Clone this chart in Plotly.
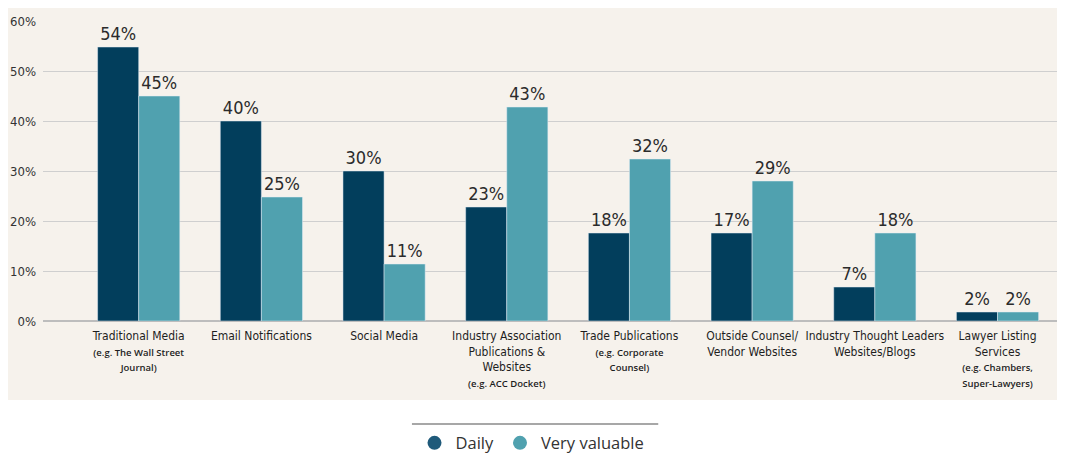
import plotly.graph_objects as go

categories = [
    "Traditional Media",
    "Email Notifications",
    "Social Media",
    "Industry Association<br>Publications &<br>Websites",
    "Trade Publications",
    "Outside Counsel/<br>Vendor Websites",
    "Industry Thought Leaders<br>Websites/Blogs",
    "Lawyer Listing<br>Services",
]
notes = [
    "(e.g. The Wall Street<br>Journal)",
    "",
    "",
    "(e.g. ACC Docket)",
    "(e.g. Corporate<br>Counsel)",
    "",
    "",
    "(e.g. Chambers,<br>Super-Lawyers)",
]
# bar heights as drawn, and the percentages printed above them
daily = [54.8, 40, 30, 22.8, 17.6, 17.6, 6.8, 1.8]
very_valuable = [45, 24.8, 11.4, 42.8, 32.4, 28, 17.6, 1.8]
daily_labels = ["54%", "40%", "30%", "23%", "18%", "17%", "7%", "2%"]
very_valuable_labels = ["45%", "25%", "11%", "43%", "32%", "29%", "18%", "2%"]
y_ticks = [0, 10, 20, 30, 40, 50, 60]

DARK = "#023e5c"
LIGHT = "#50a1af"
BEIGE = "#f6f2ec"
COND = "DejaVu Sans Condensed"
BODY = "Open Sans, Noto Sans, sans-serif"

# tick labels: condensed title plus small note line
ticktext = []
for name, note in zip(categories, notes):
    label = name
    if note:
        label += ("<br><span style='font-size:9.5px;font-family:Open Sans;font-weight:600'>"
                  + note + "</span>")
    ticktext.append(label)

x = list(range(len(categories)))

fig = go.Figure()
fig.add_trace(go.Bar(x=x, y=daily, marker_color=DARK, name="Daily", showlegend=False,
                     text=daily_labels, textposition="outside",
                     textfont=dict(family=COND, size=18, color="#2b2b2b"), cliponaxis=False))
fig.add_trace(go.Bar(x=x, y=very_valuable, marker_color=LIGHT, name="Very valuable", showlegend=False,
                     text=very_valuable_labels, textposition="outside",
                     textfont=dict(family=COND, size=18, color="#2b2b2b"), cliponaxis=False))

# legend entries drawn as circles
fig.add_trace(go.Scatter(x=[None], y=[None], mode="markers", name="Daily",
                         marker=dict(color="#1f5a7a", size=14, symbol="circle")))
fig.add_trace(go.Scatter(x=[None], y=[None], mode="markers", name="Very valuable",
                         marker=dict(color=LIGHT, size=14, symbol="circle")))

# beige panel behind the chart and the rule above the legend
fig.add_shape(type="rect", xref="paper", yref="paper", x0=-0.05, x1=1.01, y0=-0.263, y1=1.1,
              fillcolor=BEIGE, line_width=0, layer="below")
fig.add_shape(type="line", xref="paper", yref="paper", x0=0.361, x1=0.602, y0=-0.343, y1=-0.343,
              line=dict(color="#8a8a8a", width=1.5))

# page body has an 8px margin, so the figure is 8px smaller than the window
fig.update_layout(
    width=1057, height=448,
    margin=dict(l=35, r=0, t=13, b=135, autoexpand=False),
    paper_bgcolor="white", plot_bgcolor=BEIGE,
    barmode="group", bargap=0.33, bargroupgap=0,
    font=dict(family=COND, color="#2b2b2b"),
    legend=dict(orientation="h", x=0.478, xanchor="center", y=-0.407, yanchor="middle",
                font=dict(family=BODY, size=16.5, color="#333333"), bgcolor="rgba(0,0,0,0)",
                itemwidth=32),
    xaxis=dict(tickmode="array", tickvals=x, ticktext=ticktext, range=[-0.78, 7.55],
               tickfont=dict(family=COND, size=12, color="#1e1e1e"), showgrid=False,
               zeroline=False, ticks="", showline=False, tickangle=0, automargin=False,
               ticklabelstandoff=6),
    yaxis=dict(range=[0, 60], tickvals=y_ticks, ticktext=[f"{v}%" for v in y_ticks],
               tickfont=dict(family=COND, size=13, color="#333333"), gridcolor="#cfcfcf",
               zeroline=True, zerolinecolor="#bdbdbd", zerolinewidth=1.5, ticks="",
               ticklabelstandoff=6, automargin=False),
)

fig.write_html("out.html")
